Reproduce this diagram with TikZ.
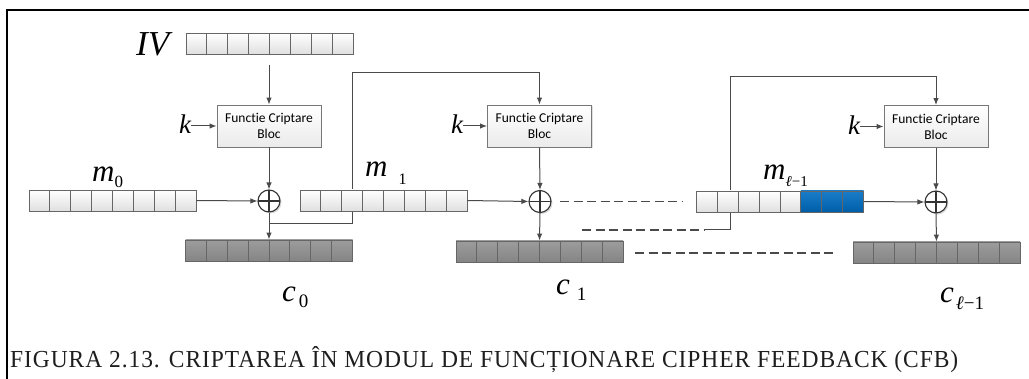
\documentclass[tikz,border=0pt]{standalone}
\usepackage{fontspec}
\setmainfont{Liberation Serif}
\newfontfamily\varfont{Liberation Serif Italic}
\newfontfamily\blockfont{Carlito}[Ligatures={NoCommon}]
\newfontfamily\capfont[LetterSpace=4]{Liberation Serif}
\usetikzlibrary{arrows.meta,shadows,backgrounds,calc}

\definecolor{linegray}{HTML}{4A4A4A}
\definecolor{reggray}{HTML}{666666}
\definecolor{celllight}{HTML}{E0E0E0}
\definecolor{darktop}{HTML}{9C9C9C}
\definecolor{darkbot}{HTML}{858585}
\definecolor{bluetop}{HTML}{1A7CC8}
\definecolor{bluebot}{HTML}{005EA8}
\definecolor{blockgray}{HTML}{777777}
\definecolor{captext}{HTML}{1E1E1E}

\tikzset{
  dividers/.code={%
    \foreach \i in {1,...,7}{%
      \draw[reggray, line width=0.8pt]
        ($(path picture bounding box.south west)!\i/8!(path picture bounding box.south east)$) --
        ($(path picture bounding box.north west)!\i/8!(path picture bounding box.north east)$);}},
  regbase/.style={draw=reggray, line width=0.9pt, minimum width=167pt,
    minimum height=21pt, inner sep=0pt},
  reglight/.style={regbase, top color=white, bottom color=celllight,
    path picture={\pgfkeysalso{/tikz/dividers}}},
  regdark/.style={regbase, top color=darktop, bottom color=darkbot,
    path picture={\pgfkeysalso{/tikz/dividers}}},
  regblue/.style={regbase, top color=white, bottom color=celllight,
    path picture={%
      \shade[top color=bluetop, bottom color=bluebot]
        ($(path picture bounding box.south west)!5/8!(path picture bounding box.south east)$)
        rectangle (path picture bounding box.north east);
      \pgfkeysalso{/tikz/dividers}}},
  cipherbox/.style={draw=blockgray, line width=0.9pt, top color=white,
    bottom color=black!8, minimum width=104pt, minimum height=42pt,
    inner sep=0pt, align=center, font=\blockfont\fontsize{13.5}{16}\selectfont,
    drop shadow={opacity=0.25, shadow xshift=1pt, shadow yshift=-1pt}},
  xor/.style={circle, draw=black!80, line width=1.1pt, fill=white,
    minimum size=22pt, inner sep=0pt,
    drop shadow={opacity=0.3, shadow xshift=1.5pt, shadow yshift=-1.5pt},
    path picture={%
      \draw[black!80, line width=1.3pt] (path picture bounding box.north) -- (path picture bounding box.south);
      \draw[black!80, line width=1.3pt] (path picture bounding box.west) -- (path picture bounding box.east);}},
  arr/.style={draw=linegray, line width=1pt, -{Latex[length=7pt,width=5.5pt]}},
  dsh/.style={draw=linegray, line width=1.7pt, dash pattern=on 9pt off 4.5pt},
  lbl/.style={anchor=base west, inner sep=0pt},
  sym/.style={lbl, font=\varfont\fontsize{27}{27}\selectfont},
}

\begin{document}
\begin{tikzpicture}[x=1pt, y=-1pt]
\useasboundingbox (0,0) rectangle (1029,379);

% outer frame (top and left edges)
\draw[line width=2pt, black] (7,379) -- (7,10) -- (1029,10);

% ---- stage 1 ----
\node[lbl, font=\varfont\fontsize{35}{35}\selectfont] (ivlab) at (136,56) {IV};
\node[reglight] (iv) at (269.5,43.5) {};
\node[cipherbox] (b1) at (269,126) {Functie Criptare\\Bloc};
\node[sym] (k1) at (179,134) {k};
\node[reglight] (m0) at (112.5,200.5) {};
\node[lbl] (m0lab) at (92,182) {\varfont\fontsize{31}{31}\selectfont m\raisebox{-6pt}{\fontsize{17}{17}\selectfont\rmfamily 0}};
\node[xor] (x1) at (269,201) {};
\node[regdark] (c0) at (269,250.5) {};
\node[lbl] (c0lab) at (282,302) {\varfont\fontsize{31}{31}\selectfont c\hspace{3pt}\raisebox{-6pt}{\fontsize{19}{19}\selectfont\rmfamily 0}};

% ---- stage 2 ----
\node[reglight] (m1) at (383.5,200.5) {};
\node[lbl] (m1lab) at (365,177) {\varfont\fontsize{31}{31}\selectfont m\hspace{11pt}\raisebox{-8pt}{\fontsize{16}{16}\selectfont\rmfamily 1}};
\node[cipherbox] (b2) at (539.5,126) {Functie Criptare\\Bloc};
\node[sym] (k2) at (451,134) {k};
\node[xor] (x2) at (540,201.5) {};
\node[regdark] (c1) at (539.5,251.5) {};
\node[lbl] (c1lab) at (556,295) {\varfont\fontsize{31}{31}\selectfont c\hspace{7pt}\raisebox{-6pt}{\fontsize{19}{19}\selectfont\rmfamily 1}};

% ---- stage l ----
\node[regblue] (ml) at (780,201.5) {};
\node[lbl] (mllab) at (763,180) {\varfont\fontsize{31}{31}\selectfont m\raisebox{-7pt}{\fontsize{15}{15}\selectfont ℓ\rmfamily −1}};
\node[cipherbox] (b3) at (936,126.5) {Functie Criptare\\Bloc};
\node[sym] (k3) at (848,135) {k};
\node[xor] (x3) at (936,202) {};
\node[regdark] (cl) at (936.5,252.5) {};
\node[lbl] (cllab) at (940,303) {\varfont\fontsize{31}{31}\selectfont c\hspace{2pt}\raisebox{-7pt}{\fontsize{19}{19}\selectfont ℓ\rmfamily −1}};

% caption
\node[lbl, text=captext] (cap) at (10,368)
  {\resizebox{948pt}{21pt}{\capfont FIGURA 2.13. CRIPTAREA ÎN MODUL DE FUNCȚIONARE CIPHER FEEDBACK (CFB)}};

% ---- connectors ----
\coordinate (ivtail) at (269,65);
\draw[arr] (ivtail) -- (b1.north);
\draw[arr] (b1.west -| k1.east) -- (b1.west);
\draw[arr] (b1.south) -- (x1.north);
\draw[arr] (m0.east) -- (x1.west);
\draw[arr] (x1.south) -- (c0.north);

\draw[arr] (b2.west -| k2.east) -- (b2.west);
\draw[arr] (b2.south) -- (x2.north);
\draw[arr] (m1.east) -- (x2.west);
\draw[arr] (x2.south) -- (c1.north);

\draw[arr] (b3.west -| k3.east) -- (b3.west);
\draw[arr] (b3.south) -- (x3.north);
\draw[arr] (ml.east) -- (x3.west);
\draw[arr] (x3.south) -- (cl.north);

% feedback paths run behind the plaintext registers
\coordinate (j1) at (269,224);
\coordinate (f1a) at (352,224);
\coordinate (f1b) at (352,73);
\coordinate (d2s) at (582,230);
\coordinate (d2e) at (705,230);
\coordinate (f3a) at (730,230);
\coordinate (f3b) at (730,77);
\begin{pgfonlayer}{background}
  \draw[arr] (j1) -- (f1a) -- (f1b) -| (b2.north);
  \draw[arr] (d2e) -- (f3a) -- (f3b) -| (b3.north);
\end{pgfonlayer}

% elided stages
\coordinate (d1s) at (560,201.5);
\coordinate (d1e) at (682,201.5);
\coordinate (d3s) at (635,253);
\coordinate (d3e) at (833,253);
\draw[dsh] (d1s) -- (d1e);
\draw[dsh] (d2s) -- (d2e);
\draw[dsh] (d3s) -- (d3e);
\end{tikzpicture}
\end{document}
